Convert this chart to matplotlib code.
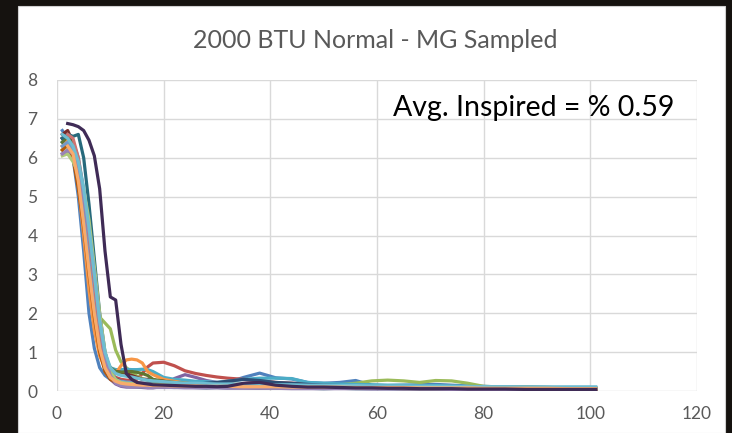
import numpy as np
import matplotlib
matplotlib.use("Agg")
import matplotlib.pyplot as plt
from matplotlib.patches import Rectangle

nan = np.nan

# -----------------------------
# Data
# -----------------------------
x_vals = [1, 2, 3, 4, 5, 6, 7, 8, 9, 10, 11, 12, 13, 14, 15, 16, 17, 18,
          20, 22, 24, 26, 28, 30, 32, 35, 38, 41, 44, 47, 50, 53, 56, 59,
          62, 65, 68, 71, 74, 77, 80, 84, 88, 92, 96, 101]

blue = [6.7, 6.5, 6.0, 5.0, 3.6, 2.0, 1.1, 0.6, 0.4, 0.3, 0.25, 0.22, 0.2, 0.2, 0.18, 0.17, 0.16, 0.15,
        0.15, 0.14, 0.15, 0.14, 0.15, 0.18, 0.22, 0.35, 0.46, 0.34, 0.31, 0.22, 0.2, 0.22, 0.27, 0.15,
        0.14, 0.15, 0.16, 0.17, 0.15, 0.13, 0.12, 0.1, 0.1, 0.09, 0.08, 0.08]
red = [6.5, 6.6, 6.3, 5.6, 4.6, 3.4, 2.2, 1.2, 0.7, 0.45, 0.35, 0.3, 0.28, 0.27, 0.3, 0.45, 0.62, 0.72,
       0.74, 0.65, 0.52, 0.45, 0.4, 0.36, 0.33, 0.3, 0.26, 0.22, 0.2, 0.18, 0.17, 0.14, 0.12, 0.12,
       0.13, 0.12, 0.14, 0.12, 0.12, 0.1, 0.09, 0.08, 0.08, 0.07, 0.07, 0.06]
green = [6.2, 6.3, 6.1, 5.7, 5.0, 4.0, 3.0, 1.9, 1.75, 1.6, 1.05, 0.75, 0.6, 0.48, 0.38, 0.32, 0.28, 0.25,
         0.2, 0.2, 0.18, 0.18, 0.2, 0.2, 0.18, 0.17, 0.18, 0.16, 0.18, 0.17, 0.18, 0.16, 0.2, 0.26,
         0.28, 0.26, 0.22, 0.27, 0.26, 0.2, 0.12, 0.1, 0.1, 0.09, 0.08, 0.08]
purple = [6.1, 6.15, 6.0, 5.4, 4.5, 3.5, 2.4, 1.3, 0.6, 0.3, 0.18, 0.12, 0.1, 0.1, 0.1, 0.09, 0.08, 0.08,
          0.12, 0.32, 0.42, 0.35, 0.27, 0.22, 0.18, 0.16, 0.14, 0.15, 0.13, 0.14, 0.12, 0.13, 0.15, 0.13,
          0.12, 0.11, 0.12, 0.1, 0.1, 0.09, 0.08, 0.08, 0.07, 0.07, 0.06, 0.06]
cyan = [6.4, 6.5, 6.4, 6.0, 5.2, 4.0, 2.8, 1.6, 0.9, 0.6, 0.55, 0.55, 0.56, 0.55, 0.55, 0.56, 0.55, 0.5,
        0.35, 0.3, 0.28, 0.25, 0.24, 0.22, 0.25, 0.3, 0.33, 0.33, 0.32, 0.22, 0.2, 0.18, 0.17, 0.16,
        0.15, 0.15, 0.14, 0.14, 0.13, 0.12, 0.11, 0.1, 0.1, 0.1, 0.1, 0.1]
orange = [6.3, 6.45, 6.2, 5.3, 4.0, 2.6, 1.55, 0.9, 0.6, 0.45, 0.45, 0.65, 0.8, 0.82, 0.8, 0.72, 0.5, 0.42,
          0.3, 0.25, 0.2, 0.18, 0.17, 0.16, 0.15, 0.15, 0.14, 0.13, 0.14, 0.12, 0.12, 0.11, 0.12, 0.1,
          0.1, 0.11, 0.1, 0.1, 0.09, 0.09, 0.08, 0.08, 0.07, 0.07, 0.06, 0.06]
dark_blue = [6.5, 6.6, 6.3, 5.6, 4.7, 3.6, 2.4, 1.3, 0.7, 0.4, 0.3, 0.25, 0.22, 0.2, 0.2, 0.2, 0.2, 0.18,
             0.16, 0.15, 0.15, 0.17, 0.2, 0.22, 0.25, 0.3, 0.27, 0.22, 0.2, 0.17, 0.15, 0.14, 0.12, 0.11,
             0.1, 0.1, 0.09, 0.09, 0.08, 0.08, 0.07, 0.07, 0.06, 0.06, 0.05, 0.05]
dark_red = [6.6, 6.7, 6.4, 5.7, 4.6, 3.5, 2.3, 1.5, 0.8, 0.55, 0.5, 0.48, 0.45, 0.4, 0.35, 0.3, 0.3, 0.28,
            0.25, 0.2, 0.18, 0.16, 0.15, 0.14, 0.13, 0.12, 0.12, 0.11, 0.1, 0.1, 0.1, 0.09, 0.09, 0.08,
            0.08, 0.09, 0.08, 0.07, 0.07, 0.06, 0.06, 0.05, 0.05, 0.05, 0.04, 0.04]
dark_green = [6.4, 6.55, 6.3, 5.8, 4.9, 3.7, 2.5, 1.4, 0.8, 0.6, 0.5, 0.48, 0.5, 0.5, 0.48, 0.45, 0.4, 0.3,
              0.25, 0.22, 0.2, 0.18, 0.16, 0.15, 0.14, 0.14, 0.13, 0.12, 0.12, 0.11, 0.11, 0.1, 0.1, 0.09,
              0.09, 0.08, 0.08, 0.08, 0.07, 0.07, 0.07, 0.06, 0.06, 0.06, 0.05, 0.05]
dark_purple = [nan, 6.88, 6.85, 6.8, 6.7, 6.45, 6.05, 5.2, 3.6, 2.42, 2.34, 1.2, 0.45, 0.3, 0.22, 0.2, 0.18, 0.16,
               0.15, 0.14, 0.13, 0.12, 0.12, 0.11, 0.12, 0.2, 0.22, 0.15, 0.12, 0.1, 0.1, 0.09, 0.08, 0.08,
               0.07, 0.07, 0.06, 0.06, 0.06, 0.05, 0.05, 0.05, 0.04, 0.04, 0.04, 0.04]
teal = [6.5, 6.6, 6.55, 6.6, 6.0, 4.8, 3.4, 2.0, 1.0, 0.5, 0.3, 0.2, 0.15, 0.12, 0.11, 0.1, 0.1, 0.1,
        0.1, 0.09, 0.1, 0.09, 0.08, 0.09, 0.08, 0.08, 0.07, 0.08, 0.07, 0.07, 0.06, 0.07, 0.06, 0.06,
        0.06, 0.05, 0.05, 0.05, 0.05, 0.04, 0.04, 0.04, 0.04, 0.03, 0.03, 0.03]
dark_orange = [6.2, 6.35, 6.0, 5.2, 4.2, 3.0, 1.9, 1.0, 0.5, 0.3, 0.22, 0.18, 0.16, 0.15, 0.15, 0.14, 0.14, 0.13,
               0.13, 0.12, 0.12, 0.11, 0.11, 0.1, 0.1, 0.1, 0.09, 0.09, 0.09, 0.08, 0.08, 0.08, 0.07, 0.07,
               0.07, 0.06, 0.06, 0.06, 0.06, 0.05, 0.05, 0.05, 0.05, 0.04, 0.04, 0.04]
light_blue = [6.3, 6.4, 6.2, 5.6, 4.6, 3.4, 2.2, 1.2, 0.6, 0.35, 0.28, 0.25, 0.23, 0.22, 0.2, 0.19, 0.18, 0.17,
              0.16, 0.15, 0.15, 0.14, 0.14, 0.13, 0.13, 0.14, 0.15, 0.14, 0.13, 0.12, 0.12, 0.11, 0.12, 0.11,
              0.1, 0.11, 0.12, 0.11, 0.1, 0.1, 0.09, 0.1, 0.09, 0.09, 0.08, 0.08]
light_red = [nan, 6.6, 6.5, 6.0, 5.1, 4.0, 2.8, 1.6, 0.8, 0.4, 0.25, 0.2, 0.18, 0.17, 0.16, 0.15, 0.15, 0.14,
             0.14, 0.13, 0.13, 0.12, 0.12, 0.12, 0.11, 0.11, 0.1, 0.1, 0.1, 0.09, 0.09, 0.09, 0.08, 0.08,
             0.08, 0.08, 0.07, 0.07, 0.07, 0.07, 0.06, 0.06, 0.06, 0.06, 0.05, 0.05]
light_green = [6.05, 6.1, 5.9, 5.6, 5.2, 4.4, 3.2, 2.0, 1.0, 0.5, 0.3, 0.22, 0.2, 0.19, 0.18, 0.18, 0.17, 0.17,
               0.16, 0.16, 0.15, 0.15, 0.15, 0.14, 0.14, 0.14, 0.13, 0.13, 0.13, 0.12, 0.12, 0.12, 0.12, 0.11,
               0.11, 0.11, 0.1, 0.1, 0.1, 0.1, 0.09, 0.09, 0.09, 0.08, 0.08, 0.08]
light_purple = [6.1, 6.2, 6.1, 5.8, 5.0, 4.1, 3.0, 1.8, 0.9, 0.4, 0.2, 0.14, 0.12, 0.1, 0.1, 0.1, 0.09, 0.09,
                0.09, 0.09, 0.08, 0.08, 0.08, 0.08, 0.07, 0.07, 0.07, 0.07, 0.06, 0.06, 0.06, 0.06, 0.06, 0.05,
                0.05, 0.05, 0.05, 0.05, 0.04, 0.04, 0.04, 0.04, 0.04, 0.03, 0.03, 0.03]
light_cyan = [6.6, 6.5, 6.3, 5.9, 5.2, 4.2, 3.0, 1.8, 1.0, 0.6, 0.45, 0.4, 0.38, 0.36, 0.33, 0.3, 0.28, 0.26,
              0.24, 0.22, 0.2, 0.2, 0.19, 0.18, 0.18, 0.17, 0.17, 0.16, 0.16, 0.15, 0.15, 0.14, 0.14, 0.13,
              0.13, 0.13, 0.12, 0.12, 0.12, 0.11, 0.11, 0.11, 0.1, 0.1, 0.1, 0.1]
light_orange = [nan, 6.3, 6.1, 5.4, 4.3, 3.1, 2.0, 1.1, 0.6, 0.35, 0.25, 0.2, 0.18, 0.17, 0.16, 0.15, 0.15, 0.14,
                0.14, 0.13, 0.13, 0.13, 0.12, 0.12, 0.12, 0.11, 0.11, 0.11, 0.1, 0.1, 0.1, 0.1, 0.09, 0.09,
                0.09, 0.09, 0.08, 0.08, 0.08, 0.08, 0.07, 0.07, 0.07, 0.07, 0.06, 0.06]

title = "2000 BTU Normal - MG Sampled"
note = "Avg. Inspired = % 0.59"

# Excel 2010 palette order
series = [
    (blue, "#4F81BD"), (red, "#C0504D"), (green, "#9BBB59"), (purple, "#8064A2"),
    (cyan, "#4BACC6"), (orange, "#F79646"), (dark_blue, "#2C4D75"), (dark_red, "#772C2A"),
    (dark_green, "#5F7530"), (teal, "#276A7C"), (dark_orange, "#B65708"),
    (light_blue, "#729ACA"), (light_red, "#CD7371"), (light_green, "#AFC97A"),
    (light_purple, "#9983B5"), (light_cyan, "#6FBDD1"), (light_orange, "#F9AB6B"),
    (dark_purple, "#3F2B56"),
]

plt.rcParams["font.family"] = ["Lato", "DejaVu Sans"]

W, H = 732, 433
fig = plt.figure(figsize=(W / 100, H / 100), dpi=100, facecolor="#15120F")
# white chart panel inside the dark screen frame
fig.patches.append(Rectangle((18 / W, 0), (725 - 18) / W, (H - 6) / H,
                             transform=fig.transFigure, facecolor="white",
                             edgecolor="#D0D0D0", linewidth=0.8, zorder=-10))

ax = fig.add_axes([57 / W, 1 - 391 / H, (697 - 57) / W, (391 - 80) / H])
ax.set_zorder(5)
ax.set_facecolor("white")

for vals, col in series:
    ax.plot(x_vals, vals, color=col, linewidth=2.3, solid_joinstyle="round")

ax.set_xlim(0, 120)
ax.set_ylim(0, 8)
ax.set_xticks(range(0, 121, 20))
ax.set_yticks(range(0, 9))
ax.grid(True, color="#D9D9D9", linewidth=1.0)
ax.set_axisbelow(True)
for s in ax.spines.values():
    s.set_visible(False)
ax.tick_params(length=0, labelsize=12.5, colors="#595959")
ax.tick_params(axis="y", pad=14)
ax.tick_params(axis="x", pad=11)

fig.text(375 / W, 1 - 40 / H, title, ha="center", va="center",
         fontsize=18, color="#595959", zorder=6)
ax.text(0.525, 0.91, note, transform=ax.transAxes,
        ha="left", va="center", fontsize=20.5, color="black")

fig.savefig("out.png", dpi=100, facecolor=fig.get_facecolor())
